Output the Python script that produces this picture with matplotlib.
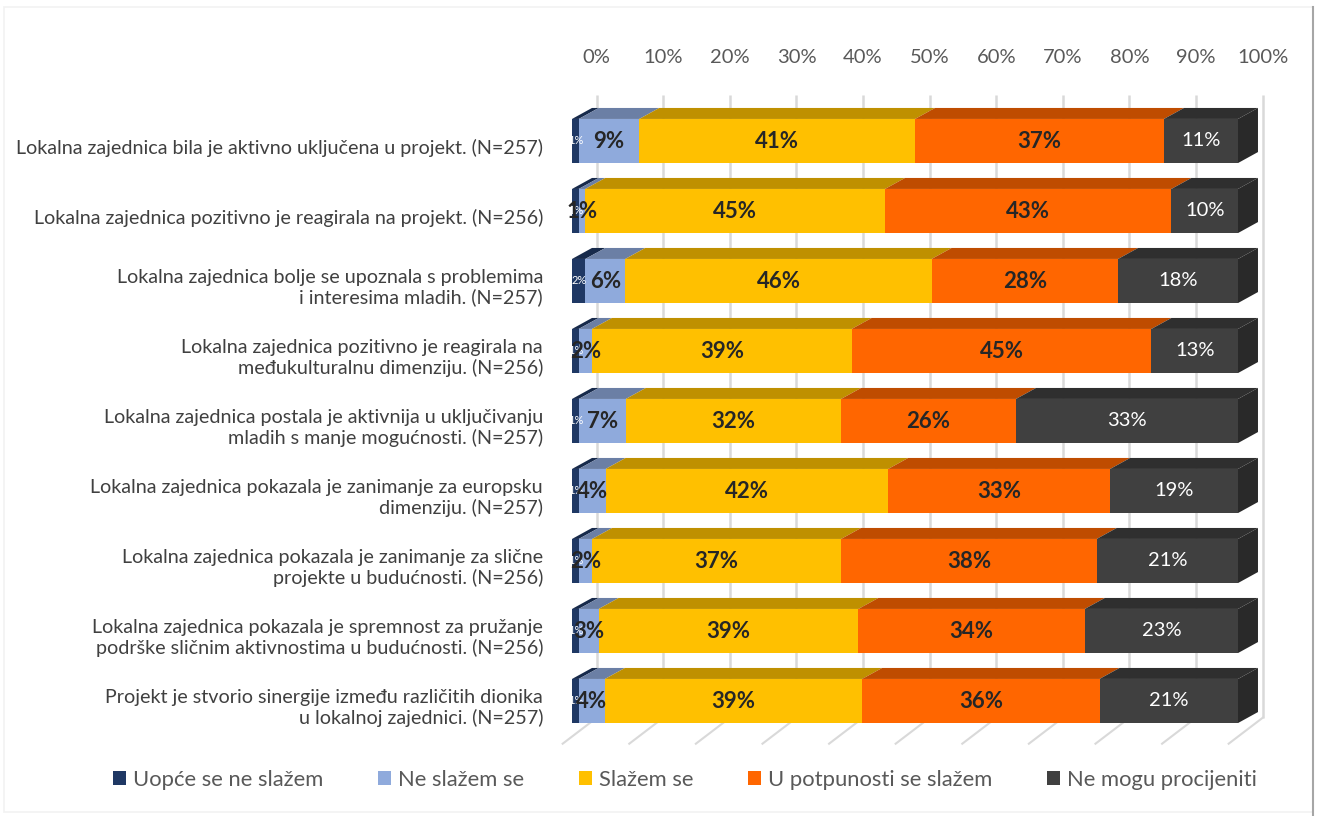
import numpy as np
import matplotlib
matplotlib.use('Agg')
import matplotlib.pyplot as plt
from matplotlib.patches import Polygon, Rectangle

plt.rcParams['font.family'] = ['Lato', 'DejaVu Sans']

# data
questions = [
    'Lokalna zajednica bila je aktivno uključena u projekt. (N=257)',
    'Lokalna zajednica pozitivno je reagirala na projekt. (N=256)',
    'Lokalna zajednica bolje se upoznala s problemima\ni interesima mladih. (N=257)',
    'Lokalna zajednica pozitivno je reagirala na\nmeđukulturalnu dimenziju. (N=256)',
    'Lokalna zajednica postala je aktivnija u uključivanju\nmladih s manje mogućnosti. (N=257)',
    'Lokalna zajednica pokazala je zanimanje za europsku\ndimenziju. (N=257)',
    'Lokalna zajednica pokazala je zanimanje za slične\nprojekte u budućnosti. (N=256)',
    'Lokalna zajednica pokazala je spremnost za pružanje\npodrške sličnim aktivnostima u budućnosti. (N=256)',
    'Projekt je stvorio sinergije između različitih dionika\nu lokalnoj zajednici. (N=257)',
]
series = ['Uopće se ne slažem', 'Ne slažem se', 'Slažem se',
          'U potpunosti se slažem', 'Ne mogu procijeniti']
uopce = [1, 1, 2, 1, 1, 1, 1, 1, 1]
ne_slazem = [9, 1, 6, 2, 7, 4, 2, 3, 4]
slazem = [41, 45, 46, 39, 32, 42, 37, 39, 39]
potpuno = [37, 43, 28, 45, 26, 33, 38, 34, 36]
ne_mogu = [11, 10, 18, 13, 33, 19, 21, 23, 21]
ticks = [0, 10, 20, 30, 40, 50, 60, 70, 80, 90, 100]

front = ['#1F3864', '#8FAADC', '#FFC000', '#FF6600', '#404040']
top_c = ['#172A4B', '#6B7FA5', '#BF9000', '#BF4C00', '#2F2F2F']
side_c = '#292929'

vals = np.array([uopce, ne_slazem, slazem, potpuno, ne_mogu], dtype=float).T
shares = vals / vals.sum(axis=1, keepdims=True) * 100

W, H = 1317, 816
fig = plt.figure(figsize=(W / 100, H / 100), dpi=100)
fig.patch.set_facecolor('white')

# chart frame
fig.add_artist(Rectangle((4 / W, 4 / H), 1309 / W, 805 / H, transform=fig.transFigure,
                         facecolor='none', edgecolor='#F2F2F2', lw=1.2))
fig.add_artist(plt.Line2D([1313 / W, 1313 / W], [0, 809 / H], transform=fig.transFigure,
                          color='#A6A6A6', lw=1.5))

ax = fig.add_axes([572 / W, (H - 771) / H, 666 / W, 700 / H])
ax.set_xlim(0, 100)
ax.set_ylim(9, -1)
ax.axis('off')

h = 0.63      # bar thickness (rows)
dx, dy = 3.0, 0.157   # bar depth
wx = 3.7      # back wall offset
g_top, g_bot = -0.66, 8.24

# back wall and floor gridlines
for t in ticks:
    ax.plot([t + wx, t + wx], [g_top, g_bot], color='#D9D9D9', lw=1.8, zorder=0,
            solid_capstyle='butt', clip_on=False)
    ax.plot([t + wx, t - 1.4], [g_bot, 8.61], color='#D9D9D9', lw=1.5, zorder=0,
            clip_on=False)
    ax.text(t + wx, -1.19, f'{t}%', ha='center', va='center', fontsize=14.5,
            color='#595959')

for i in range(len(questions)):
    left = 0.0
    ytop = i - h / 2
    for j in range(5):
        w = shares[i, j]
        ax.barh(i, w, left=left, height=h, color=front[j], zorder=2)
        ax.add_patch(Polygon([(left, ytop), (left + w, ytop), (left + w + dx, ytop - dy),
                              (left + dx, ytop - dy)], closed=True, facecolor=top_c[j],
                             edgecolor='none', zorder=2, clip_on=False))
        cx = left + w / 2
        lab = f'{int(vals[i, j])}%'
        if j == 0:
            ax.text(cx, i, lab, ha='center', va='center', fontsize=8, color='white', zorder=4)
        elif j == 4:
            ax.text(cx, i, lab, ha='center', va='center', fontsize=14.5, color='white', zorder=4)
        else:
            ax.text(cx, i, lab, ha='center', va='center', fontsize=16, fontweight='bold',
                    color='#262626', zorder=4)
        left += w
    ybot = i + h / 2
    ax.add_patch(Polygon([(100, ytop), (100, ybot), (100 + dx, ybot - dy),
                          (100 + dx, ytop - dy)], closed=True, facecolor=side_c,
                         edgecolor='none', zorder=2, clip_on=False))
    ax.text(-4.35, i + 0.1, questions[i], ha='right', va='center', fontsize=14.2,
            color='#404040', linespacing=1.15, multialignment='right')

handles = [Rectangle((0, 0), 1, 1, facecolor=c) for c in front]
leg = fig.legend(handles, series, loc='center', bbox_to_anchor=(685 / W, (H - 780) / H),
                 ncol=5, frameon=False, fontsize=15.8, handlelength=0.6, handleheight=0.6,
                 handletextpad=0.3, columnspacing=2.5)
for t in leg.get_texts():
    t.set_color('#595959')

fig.savefig('out.png', dpi=100)
